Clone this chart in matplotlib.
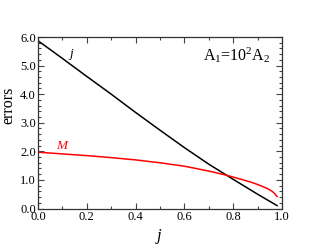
import matplotlib

matplotlib.use("Agg")
import matplotlib.pyplot as plt
from matplotlib.ticker import MultipleLocator, FormatStrFormatter

# values
j_black = [0.0, 0.1, 0.2, 0.3, 0.4, 0.5, 0.6, 0.7, 0.8, 0.9, 0.98]
err_j = [5.87, 5.25, 4.62, 4.00, 3.36, 2.74, 2.13, 1.55, 1.02, 0.50, 0.10]

j_red = [0.0, 0.1, 0.2, 0.3, 0.4, 0.5, 0.6, 0.7, 0.77, 0.8, 0.85, 0.88, 0.9, 0.92, 0.94, 0.96, 0.97, 0.98]
err_M = [1.97, 1.91, 1.85, 1.78, 1.70, 1.60, 1.48, 1.31, 1.17, 1.10, 0.98, 0.90, 0.84, 0.77, 0.70, 0.60, 0.52, 0.42]

plt.rcParams["font.family"] = ["Liberation Serif", "DejaVu Serif"]
plt.rcParams["mathtext.fontset"] = "custom"
plt.rcParams["mathtext.rm"] = "Liberation Serif"
plt.rcParams["mathtext.it"] = "Liberation Serif:italic"

fig = plt.figure(figsize=(3.17, 2.45), dpi=100)
ax = fig.add_axes([38 / 317, 1 - 208.5 / 245, 244 / 317, 171.5 / 245])

ax.plot(j_black, err_j, color="black", lw=1.1)
ax.plot(j_red, err_M, color="red", lw=1.1)

ax.text(0.135, 5.42, "j", style="italic", fontsize=9.5, ha="center", va="center")
ax.text(0.097, 2.19, "M", style="italic", fontsize=9.5, color="red", ha="center", va="center")
ax.text(0.816, 0.895, r"A$_1$=10$^2$A$_2$", transform=ax.transAxes, fontsize=11.5,
        ha="center", va="center")

ax.set_xlim(0, 1)
ax.set_ylim(0, 6)
ax.xaxis.set_major_locator(MultipleLocator(0.2))
ax.xaxis.set_minor_locator(MultipleLocator(0.1))
ax.yaxis.set_major_locator(MultipleLocator(1.0))
ax.yaxis.set_minor_locator(MultipleLocator(0.2))
ax.xaxis.set_major_formatter(FormatStrFormatter("%.1f"))
ax.yaxis.set_major_formatter(FormatStrFormatter("%.1f"))
ax.tick_params(which="both", direction="in", top=True, right=True, labelsize=9,
               color="#444444", width=0.8, pad=1.5)
ax.tick_params(which="major", length=4)
ax.tick_params(which="minor", length=2)
for s in ax.spines.values():
    s.set_linewidth(0.9)
    s.set_color("#333333")

ax.set_xlabel("j", style="italic", fontsize=12)
ax.set_ylabel("errors", fontsize=11.5)
ax.xaxis.set_label_coords(0.496, -0.115)
ax.yaxis.set_label_coords(-0.09, 0.6)

fig.savefig("out.png", dpi=100)
plt.close(fig)
